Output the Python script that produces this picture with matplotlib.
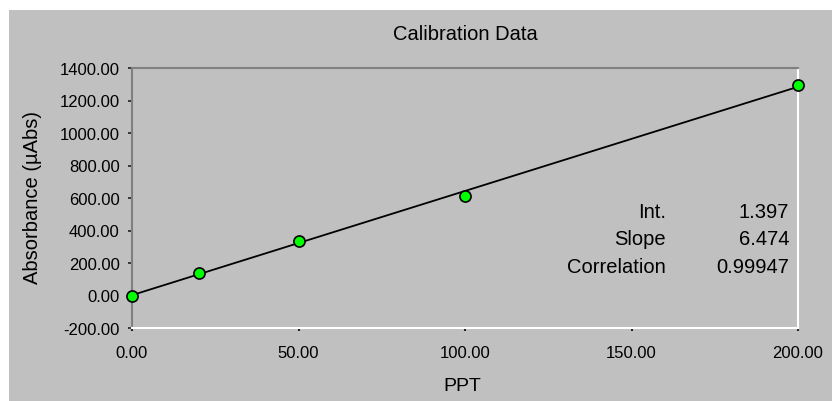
import matplotlib.pyplot as plt
from matplotlib.patches import Rectangle
import numpy as np

plt.rcParams['font.family'] = ['Liberation Sans', 'DejaVu Sans']

# calibration standards (PPT) and measured absorbance (uAbs)
ppt = [0, 20, 50, 100, 200]
absorbance = [0, 140, 335, 612, 1296]

stat_names = ['Int.', 'Slope', 'Correlation']
stat_values = ['1.397', '6.474', '0.99947']

x_ticks = [0, 50, 100, 150, 200]
y_ticks = [-200, 0, 200, 400, 600, 800, 1000, 1200, 1400]

bg = '#c0c0c0'

fig = plt.figure(figsize=(8.32, 4.02), dpi=100, facecolor='white')
# gray panel with a thin white margin top/left
fig.patches.append(Rectangle((9 / 832, 0), 1, 1 - 11 / 402, transform=fig.transFigure,
                             facecolor=bg, edgecolor='none', zorder=-10))

ax = fig.add_axes([132 / 832, 1 - 329 / 402, 666 / 832, 260 / 402])
ax.set_facecolor(bg)
ax.set_zorder(1)

# regression line
coef = np.polyfit(ppt, absorbance, 1)
xs = np.array([min(ppt), max(ppt)])
ax.plot(xs, np.polyval(coef, xs), color='black', lw=1.3, zorder=2)
ax.plot(ppt, absorbance, 'o', ms=8, mfc='#00ff00', mec='black', mew=1.2,
        zorder=3, clip_on=False)

ax.set_xlim(0, 200)
ax.set_ylim(-200, 1400)
ax.set_xticks(x_ticks)
ax.set_yticks(y_ticks)
ax.set_xticklabels(['%.2f' % v for v in x_ticks])
ax.set_yticklabels(['%.2f' % v for v in y_ticks])
ax.tick_params(axis='y', length=3, width=1.2, color='#202020', pad=6, labelsize=12)
ax.tick_params(axis='x', length=2, width=1.5, color='#202020', pad=10, labelsize=12)

# sunken 3D frame
for side in ['top', 'left']:
    ax.spines[side].set_color('#808080')
    ax.spines[side].set_linewidth(1.5)
for side in ['bottom', 'right']:
    ax.spines[side].set_color('white')
    ax.spines[side].set_linewidth(1.5)

fig.text(465 / 832, 1 - 35 / 402, 'Calibration Data', ha='center', va='center', fontsize=14.5)
fig.text(33 / 832, 1 - 197 / 402, 'Absorbance (µAbs)', ha='center', va='center',
         rotation=90, fontsize=14.5)
fig.text(462 / 832, 1 - 387 / 402, 'PPT', ha='center', va='center', fontsize=14)

for i, (name, val) in enumerate(zip(stat_names, stat_values)):
    y = 1 - (212 + 28 * i) / 402
    fig.text(666 / 832, y, name, ha='right', va='center', fontsize=14.5, zorder=5)
    fig.text(789 / 832, y, val, ha='right', va='center', fontsize=14.5, zorder=5)

fig.savefig('out.png', dpi=100, facecolor=fig.get_facecolor())
